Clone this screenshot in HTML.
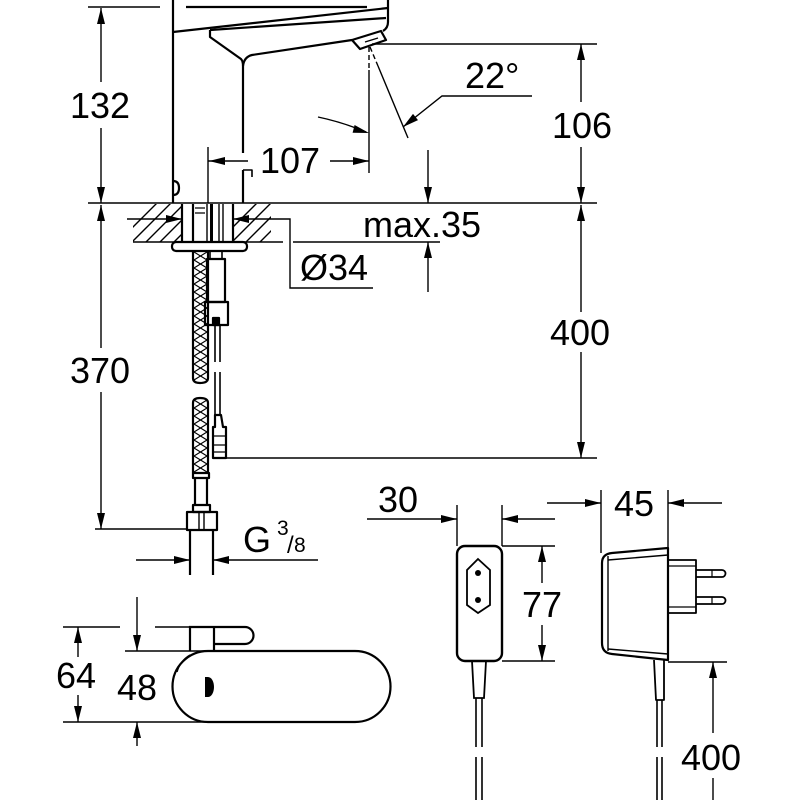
<!DOCTYPE html>
<html><head><meta charset="utf-8"><style>
html,body{margin:0;padding:0;background:#fff;}
svg{display:block;}
text{font-family:"Liberation Sans",Arial,sans-serif;fill:#000;}
</style></head><body>
<svg width="800" height="800" viewBox="0 0 800 800" xmlns="http://www.w3.org/2000/svg">
<defs>
<clipPath id="hl"><rect x="133" y="204" width="49" height="38"/></clipPath>
<clipPath id="hr"><rect x="233" y="204" width="38" height="38"/></clipPath>
</defs>
<rect width="800" height="800" fill="#fff"/>
<g fill="none" stroke="#000" stroke-width="1.4">
<line x1="88" y1="7" x2="160" y2="7"/>
<line x1="88" y1="203" x2="597" y2="203"/>
<line x1="372" y1="44" x2="597" y2="44"/>
<line x1="226" y1="458" x2="597" y2="458"/>
<line x1="95" y1="529" x2="187" y2="529"/>
<line x1="293" y1="242" x2="440" y2="242"/>
<line x1="101" y1="8" x2="101" y2="82"/>
<line x1="101" y1="128" x2="101" y2="203"/>
<line x1="101" y1="205" x2="101" y2="348"/>
<line x1="101" y1="392" x2="101" y2="529"/>
<line x1="581" y1="44" x2="581" y2="102"/>
<line x1="581" y1="147" x2="581" y2="203"/>
<line x1="581" y1="205" x2="581" y2="312"/>
<line x1="581" y1="352" x2="581" y2="458"/>
<line x1="428" y1="150" x2="428" y2="203"/>
<line x1="428" y1="242" x2="428" y2="292"/>
<line x1="208" y1="147" x2="208" y2="203"/>
<line x1="208" y1="161" x2="248" y2="161"/>
<line x1="330" y1="161" x2="369" y2="161"/>
<line x1="369" y1="70" x2="369" y2="173"/>
<line x1="369" y1="47" x2="369" y2="70" stroke-dasharray="5,3"/>
<line x1="370" y1="47" x2="378" y2="66" stroke-dasharray="5,3"/>
<line x1="378" y1="66" x2="408" y2="138"/>
<path d="M318,117 Q342,122 366,132"/>
<polyline points="403,127 442,96 532,96"/>
<line x1="127" y1="219" x2="182" y2="219"/>
<polyline points="233,219 290,219 290,288 373,288"/>
<line x1="136" y1="560" x2="190" y2="560"/>
<line x1="213" y1="560" x2="318" y2="560"/>
<line x1="63" y1="627" x2="120" y2="627"/>
<line x1="155" y1="627" x2="190" y2="627"/>
<line x1="63" y1="722" x2="208" y2="722"/>
<line x1="125" y1="651" x2="210" y2="651"/>
<line x1="78" y1="627" x2="78" y2="657"/>
<line x1="78" y1="695" x2="78" y2="722"/>
<line x1="137" y1="597" x2="137" y2="651"/>
<line x1="137" y1="722" x2="137" y2="746"/>
<line x1="367" y1="519" x2="457" y2="519"/>
<line x1="502" y1="519" x2="555" y2="519"/>
<line x1="457" y1="505" x2="457" y2="546"/>
<line x1="502" y1="505" x2="502" y2="546"/>
<line x1="502" y1="546" x2="555" y2="546"/>
<line x1="502" y1="661" x2="555" y2="661"/>
<line x1="542" y1="546" x2="542" y2="583"/>
<line x1="542" y1="625" x2="542" y2="661"/>
<line x1="547" y1="503" x2="601" y2="503"/>
<line x1="668" y1="503" x2="722" y2="503"/>
<line x1="601" y1="490" x2="601" y2="553"/>
<line x1="668" y1="490" x2="668" y2="548"/>
<line x1="668" y1="662" x2="727" y2="662"/>
<line x1="713" y1="662" x2="713" y2="733"/>
<line x1="713" y1="778" x2="713" y2="800"/>
<g clip-path="url(#hl)"><path d="M110,250 L160,200 M124,250 L174,200 M138,250 L188,200 M152,250 L202,200 M166,250 L216,200 M180,250 L230,200"/></g>
<g clip-path="url(#hr)"><path d="M210,250 L260,200 M224,250 L274,200 M238,250 L288,200 M252,250 L302,200 M266,250 L316,200"/></g>
<line x1="133" y1="242" x2="283" y2="242"/>
</g>

<g fill="#000" stroke="none">
<polygon points="101,8 97,24 105,24"/>
<polygon points="101,203 97,187 105,187"/>
<polygon points="101,205 97,221 105,221"/>
<polygon points="101,529 97,513 105,513"/>
<polygon points="581,44 577,60 585,60"/>
<polygon points="581,203 577,187 585,187"/>
<polygon points="581,205 577,221 585,221"/>
<polygon points="581,458 577,442 585,442"/>
<polygon points="428,203 424,187 432,187"/>
<polygon points="428,242 424,258 432,258"/>
<polygon points="209,161 225,157 225,165"/>
<polygon points="369,161 353,157 353,165"/>
<polygon points="369,133 352.6,132.7 354.6,125"/>
<polygon points="403,127 418,120.1 413,113.9"/>
<polygon points="182,219 166,215 166,223"/>
<polygon points="233,219 249,215 249,223"/>
<polygon points="190,560 174,556 174,564"/>
<polygon points="213,560 229,556 229,564"/>
<polygon points="78,627 74,643 82,643"/>
<polygon points="78,722 74,706 82,706"/>
<polygon points="137,651 133,635 141,635"/>
<polygon points="137,722 133,738 141,738"/>
<polygon points="457,519 441,515 441,523"/>
<polygon points="502,519 518,515 518,523"/>
<polygon points="542,546 538,562 546,562"/>
<polygon points="542,661 538,645 546,645"/>
<polygon points="601,503 585,499 585,507"/>
<polygon points="668,503 684,499 684,507"/>
<polygon points="713,662 709,678 717,678"/>
</g>

<g fill="none" stroke="#000" stroke-width="2.2" stroke-linejoin="round">
<line x1="173" y1="0" x2="173" y2="203"/>
<line x1="186" y1="7" x2="367" y2="7"/>
<path d="M173,32 L388,8"/>
<path d="M388,0 V22 Q388,28 383,31"/>
<path d="M210,30 L386,18"/>
<path d="M210,30 V37 L241,59 Q243,61 243,66 V153"/>
<path d="M243,66 Q244,57 252,55 L352,40"/>
<path d="M352,40 L381,31 L386,40 L360,49 Z"/>
<path d="M365,42 L378,38" stroke-width="1.4"/>
<path d="M243,170 V203"/>
<path d="M243,170 H252 V177" stroke-width="1.6"/>
<path d="M173,181 Q179,181 179,188 Q179,195 173,195"/>
<line x1="182" y1="204" x2="182" y2="242"/>
<line x1="193" y1="204" x2="193" y2="242"/>
<line x1="207" y1="204" x2="207" y2="242" stroke-width="1.4"/>
<line x1="211.5" y1="204" x2="211.5" y2="242" stroke-width="3"/>
<line x1="219" y1="204" x2="219" y2="242" stroke-width="1.4"/>
<line x1="223" y1="204" x2="223" y2="242" stroke-width="1.4"/>
<line x1="233" y1="204" x2="233" y2="242"/>
<path d="M195,208 H205 M195,213 H205" stroke-width="1.3"/>
<rect x="172" y="242" width="75" height="9" rx="4"/>
<rect x="210" y="251" width="12" height="8" stroke-width="1.6"/>
<rect x="207" y="259" width="18" height="43"/>
<rect x="205" y="302" width="23" height="23"/>
<rect x="213" y="318" width="6" height="7" fill="#000"/>
<path d="M215,325 V362 M220,325 V362 M215,372 V415 M220,372 V415" stroke-width="1.6"/>
<path d="M215,415 H221 L223,427 H226 V458 H213 V427 H215 Z"/>
<path d="M213,436 H226 M213,445 H226 M213,452 H226" stroke-width="1.2"/>
<path d="M193,251 V378 Q193,383 200,383 Q208,383 208,378 V251"/>
<polyline stroke-width="1.1" points="194,252 207,260 194,268 207,276 194,284 207,292 194,300 207,308 194,316 207,324 194,332 207,340 194,348 207,356 194,364 207,372 194,380"/>
<polyline stroke-width="1.1" points="207,252 194,260 207,268 194,276 207,284 194,292 207,300 194,308 207,316 194,324 207,332 194,340 207,348 194,356 207,364 194,372 207,380"/>
<path d="M193,473 V403 Q193,398 200,398 Q208,398 208,403 V473"/>
<polyline stroke-width="1.1" points="194,400 207,408 194,416 207,424 194,432 207,440 194,448 207,456 194,464 207,472"/>
<polyline stroke-width="1.1" points="207,400 194,408 207,416 194,424 207,432 194,440 207,448 194,456 207,464 194,472"/>
<rect x="193" y="473" width="16" height="5"/>
<path d="M195,478 V505 M207,478 V505"/>
<rect x="193" y="505" width="17" height="7"/>
<rect x="187" y="512" width="30" height="18"/>
<path d="M199,512 V530 M204,512 V530" stroke-width="1.4"/>
<path d="M190,530 V575 M213,530 V575"/>
</g>

<g fill="none" stroke="#000" stroke-width="2.2">
<path d="M190,651 V627 H245 A8.5,8.5 0 0 1 245,644 H214"/>
<line x1="214" y1="627" x2="214" y2="651"/>
<path d="M208,651 H355 A35.5,35.5 0 0 1 355,722 H208 A35.5,35.5 0 0 1 208,651 Z"/>
<path d="M190,655 Q180,661 177,672" stroke-width="1.4"/>
</g>
<path d="M205,677 H208 A6,10 0 0 1 208,697 H205 Z" fill="#000"/>

<g fill="none" stroke="#000" stroke-width="2.4">
<rect x="457" y="546" width="45" height="115" rx="8"/>
<path d="M478,559 L490,570 V605 L478,613 L467,605 V570 Z" stroke-width="1.8"/>
<path d="M472,661 L474,698 H484 L486,661" stroke-width="1.8"/>
<path d="M476,698 V747 M482,698 V747 M476,757 V800 M482,757 V800" stroke-width="1.6"/>
</g>
<circle cx="478" cy="573" r="3" fill="#000"/>
<circle cx="478" cy="600" r="3" fill="#000"/>

<g fill="none" stroke="#000" stroke-width="2.2" stroke-linejoin="round">
<path d="M668,548 V660 L612,654 Q602,653 602,643 V563 Q602,554 612,553 Z"/>
<path d="M608,556 V651" stroke-width="1.4"/>
<path d="M608,560 L668,555 M608,649 L668,654" stroke-width="1.4"/>
<rect x="668" y="560" width="28" height="53" stroke-width="1.8"/>
<path d="M668,566 H696 M668,607 H696" stroke-width="1.2"/>
<path d="M696,570 H722 A3.5,3.5 0 0 1 722,577 H696 M696,597 H722 A3.5,3.5 0 0 1 722,604 H696" stroke-width="1.8"/>
<path d="M712,570 V577 M712,597 V604" stroke-width="1.2"/>
<path d="M654,660 L656,700 H664 L664,660" stroke-width="1.8"/>
<path d="M657,700 V747 M662,700 V747 M657,757 V800 M662,757 V800" stroke-width="1.6"/>
</g>

<g font-size="36">
<text x="100" y="118" text-anchor="middle">132</text>
<text x="100" y="383" text-anchor="middle">370</text>
<text x="290" y="173" text-anchor="middle">107</text>
<text x="582" y="138" text-anchor="middle">106</text>
<text x="580" y="345" text-anchor="middle">400</text>
<text x="465" y="88">22°</text>
<text x="363" y="237">max.35</text>
<text x="300" y="280">Ø34</text>
<text x="243" y="552">G</text>
<text x="76" y="688" text-anchor="middle">64</text>
<text x="137" y="700" text-anchor="middle">48</text>
<text x="398" y="512" text-anchor="middle">30</text>
<text x="542" y="617" text-anchor="middle">77</text>
<text x="634" y="516" text-anchor="middle">45</text>
<text x="711" y="770" text-anchor="middle">400</text>
</g>
<text x="277" y="535" font-size="21">3</text>
<text x="287" y="553" font-size="24">/</text>
<text x="294" y="552" font-size="21">8</text>
</svg>
</body></html>
